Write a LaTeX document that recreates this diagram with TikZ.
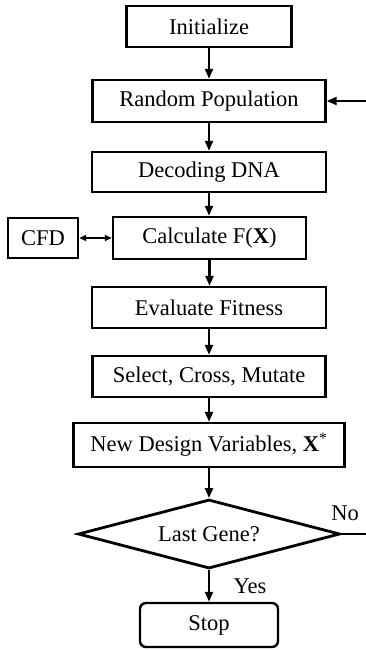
\documentclass[tikz,border=0pt]{standalone}
\usepackage{fontspec}
\setmainfont{Liberation Serif}
\usetikzlibrary{shapes.geometric,arrows.meta}
\begin{document}
\begin{tikzpicture}[x=1pt,y=-1pt,
 box/.style={draw,line width=2.4pt,inner sep=0pt,font=\fontsize{22.5}{26}\selectfont},
 lbl/.style={inner sep=0pt,font=\fontsize{22.5}{26}\selectfont},
 flow/.style={line width=2.2pt,-{Triangle[length=10pt,width=8pt]}},
 both/.style={line width=1.8pt,{Triangle[length=7pt,width=6pt]}-{Triangle[length=7pt,width=6pt]}}]
\useasboundingbox (0,0) rectangle (366,650);
\node[box,minimum width=165pt,minimum height=41pt] (init) at (209,26.5) {Initialize};
\node[box,minimum width=233pt,minimum height=42pt] (rand) at (209,101) {Random Population};
\node[box,minimum width=234pt,minimum height=40pt] (dec) at (209,172) {Decoding DNA};
\node[box,minimum width=193pt,minimum height=42pt] (calc) at (209.5,238) {Calculate F(\textbf{X})};
\node[box,minimum width=70pt,minimum height=40pt] (cfd) at (43,238) {CFD};
\node[box,minimum width=234pt,minimum height=41pt] (eval) at (209,307.5) {Evaluate Fitness};
\node[box,minimum width=233pt,minimum height=41pt] (sel) at (209,376.5) {Select, Cross, Mutate};
\node[box,minimum width=271pt,minimum height=44pt] (new) at (209,445) {New Design Variables, \textbf{X}\textsuperscript{*}};
\node[box,diamond,line width=2.8pt,aspect=3.8,minimum width=262pt,minimum height=69pt] (dia) at (209,534) {Last Gene?};
\node[box,rounded corners=6pt,minimum width=138pt,minimum height=44pt] (stop) at (209,625) {Stop};
\node[lbl] (no) at (345,513) {No};
\node[lbl] (yes) at (250,586) {Yes};
\coordinate (fb) at (366,101);
\coordinate (nofree) at (366,534);
\draw[flow] (init.south) -- (init.south |- rand.north);
\draw[flow] (rand.south) -- (rand.south |- dec.north);
\draw[flow] (dec.south) -- (dec.south |- calc.north);
\draw[flow] (calc.south) -- (calc.south |- eval.north);
\draw[flow] (eval.south) -- (eval.south |- sel.north);
\draw[flow] (sel.south) -- (sel.south |- new.north);
\draw[flow] (new.south) -- (new.south |- dia.north);
\draw[flow] (dia.south) -- (dia.south |- stop.north);
\draw[flow] (fb) -- (rand.east);
\draw[both] (cfd.east) -- (calc.west);
\draw[line width=2.2pt] (dia.east) -- (nofree);
\end{tikzpicture}
\end{document}
